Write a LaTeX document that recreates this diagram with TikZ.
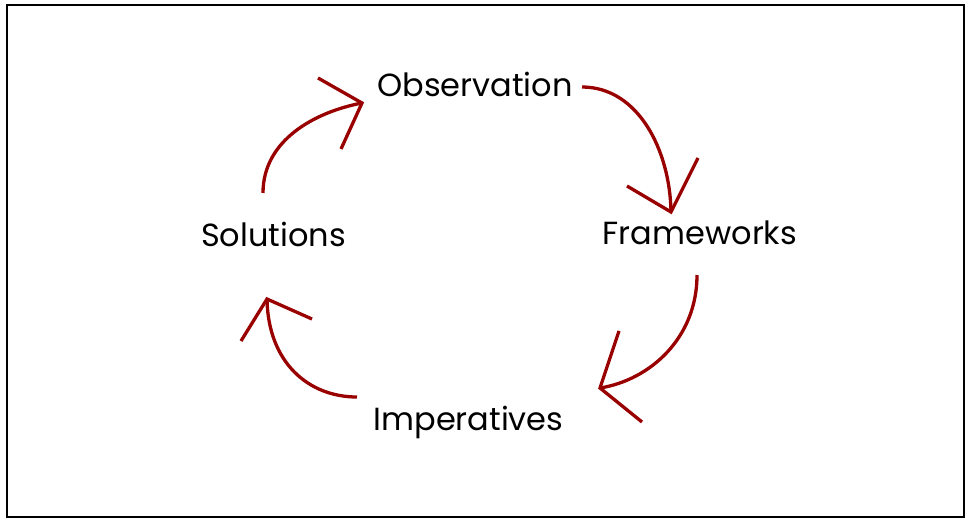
\documentclass[tikz,border=0pt]{standalone}
\usepackage{fontspec}
\setmainfont{Poppins}
\definecolor{arrowred}{HTML}{990000}
\begin{document}
\begin{tikzpicture}[x=1pt,y=-1pt,
  lbl/.style={font=\fontsize{32}{38}\selectfont, inner sep=0pt, anchor=base},
  arc/.style={draw=arrowred, line width=3.3pt},
  barb/.style={draw=arrowred, line width=3.3pt}]
\useasboundingbox (0,0) rectangle (971,524);
\draw[line width=2pt] (7,5) rectangle (963.5,517);
\node[lbl] (obs) at (475,97) {Observation};
\node[lbl] (fra) at (700,244) {Frameworks};
\node[lbl] (imp) at (468.5,430) {Imperatives};
\node[lbl] (sol) at (273.5,246) {Solutions};
% arrow 1: Solutions -> Observation
\coordinate (a1s) at (263,193);
\coordinate (a1t) at (362,103);
\draw[arc] (a1s) .. controls (263,140) and (315,112) .. (a1t);
\draw[barb] (318,78) -- (a1t) -- (341,149);
% arrow 2: Observation -> Frameworks
\coordinate (a2s) at (582,87);
\coordinate (a2t) at (671,212);
\draw[arc] (a2s) .. controls (638,87) and (670,150) .. (a2t);
\draw[barb] (627,186) -- (a2t) -- (698,158);
% arrow 3: Frameworks -> Imperatives
\coordinate (a3s) at (697,275);
\coordinate (a3t) at (600,388);
\draw[arc] (a3s) .. controls (697,338) and (650,380) .. (a3t);
\draw[barb] (619,331) -- (a3t) -- (642,422);
% arrow 4: Imperatives -> Solutions
\coordinate (a4s) at (357,397);
\coordinate (a4t) at (267,299);
\draw[arc] (a4s) .. controls (308,397) and (268,362) .. (a4t);
\draw[barb] (241,341) -- (a4t) -- (312,319);
\end{tikzpicture}
\end{document}
